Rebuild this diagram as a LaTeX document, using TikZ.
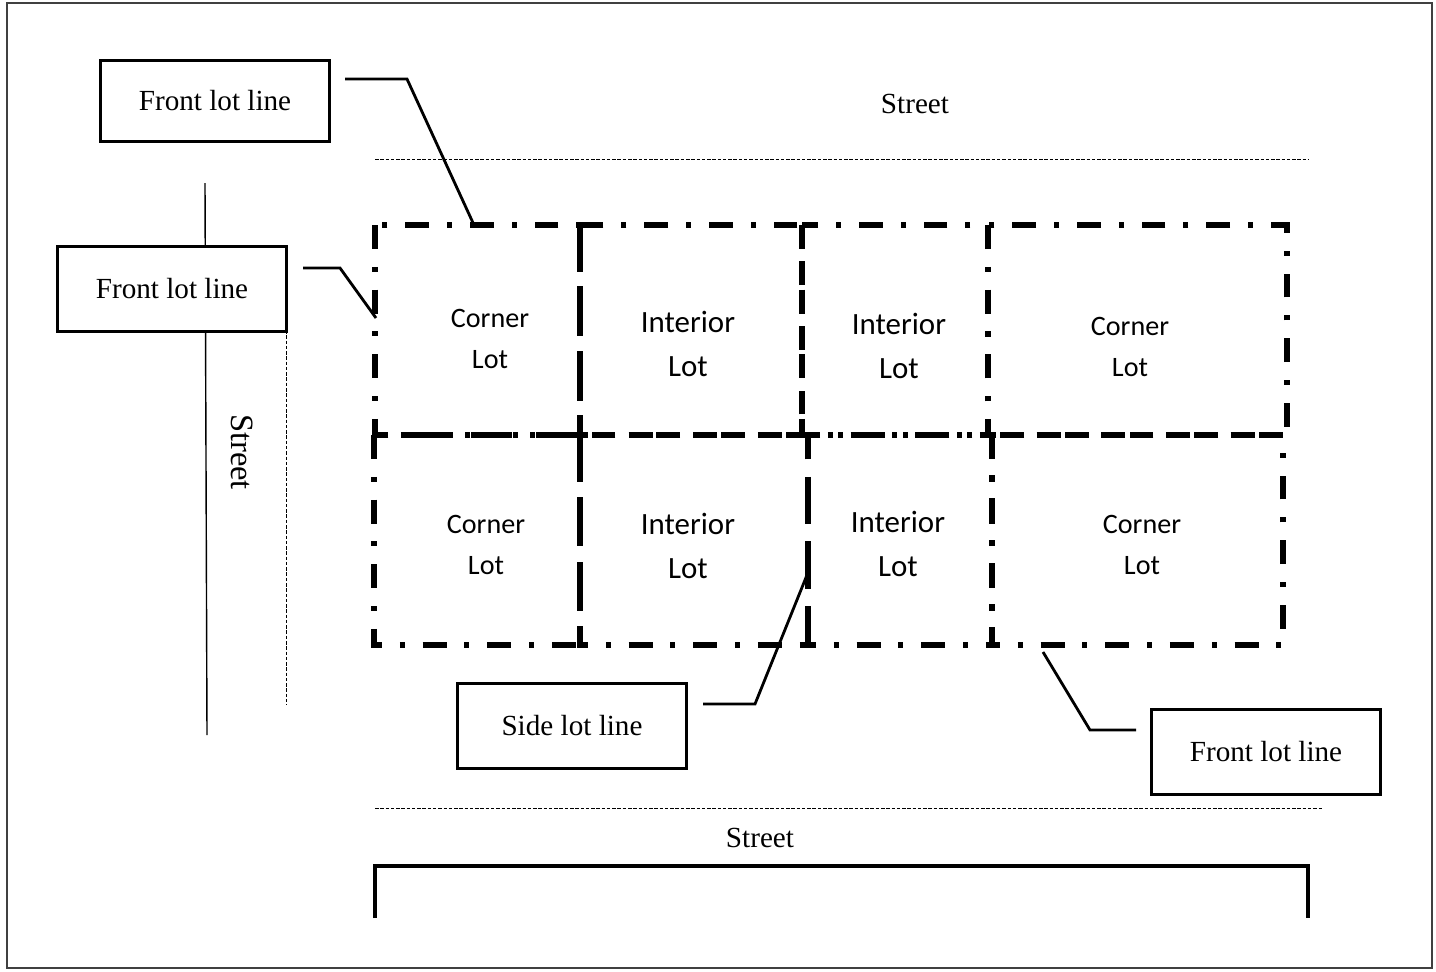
\documentclass[tikz,border=0pt]{standalone}
\usepackage{fontspec}
\setmainfont{Liberation Serif}
\newfontfamily\lotfont{Carlito}
\begin{document}
\begin{tikzpicture}[x=0.02cm,y=-0.02cm,
	cuadro/.style={draw,line width=1.6pt,fill=white,minimum width=4.58cm,minimum height=1.7cm,inner sep=0pt,font=\fontsize{16.6}{20}\selectfont},
	lindero/.style={line width=3pt,dash pattern=on 13.6pt off 10.2pt on 2.8pt off 10.2pt},
	esquina/.style={font=\lotfont\fontsize{16}{23.8}\selectfont,align=center},
	interior/.style={font=\lotfont\fontsize{17.6}{25}\selectfont,align=center},
	guia/.style={line width=1.6pt},
	calle/.style={line width=0.5pt,dash pattern=on 2pt off 1pt},
	rotulo/.style={font=\fontsize{16.6}{20}\selectfont}]
		\useasboundingbox (0,0) rectangle (1436,971);
		%marco
		\draw [line width=0.8pt,black!75] (7,3) rectangle (1432,968);
		%%%% CALLES
		\node[rotulo] at (915,104) (callearriba) {Street};
		\draw [calle] (375,159) -- (1308,159);
		\node[rotulo] at (760,838) (calleabajo) {Street};
		\draw [calle] (375,808) -- (1322,808);
		\draw [line width=2.2pt] (375,918) -- (375,866) -- (1308,866) -- (1308,918);
		%calle izquierda
		\coordinate (ci1) at (205,183);
		\coordinate (ci2) at (207,735);
		\draw [line width=0.8pt] (ci1) -- (ci2);
		\coordinate (cd1) at (286,330);
		\coordinate (cd2) at (286,705);
		\draw [calle] (cd1) -- (cd2);
		\node[rotulo,font=\fontsize{18.5}{20}\selectfont,rotate=-90] at (242,452) (calleizq) {Street};
		%%%LOTES fila 1
		\draw [lindero] (375,225) rectangle (580,435);
		\draw [lindero] (580,225) rectangle (802,435);
		\draw [lindero] (802,225) rectangle (988,435);
		\draw [lindero] (988,225) rectangle (1287,435);
		\node[esquina] at (490,339) (l11) {Corner\\Lot};
		\node[interior] at (688,344) (l12) {Interior\\Lot};
		\node[interior] at (899,346) (l13) {Interior\\Lot};
		\node[esquina] at (1130,347) (l14) {Corner\\Lot};
		%%%LOTES fila 2
		\draw [lindero] (374,435) rectangle (580,645);
		\draw [lindero] (580,435) rectangle (808,645);
		\draw [lindero] (808,435) rectangle (992,645);
		\draw [lindero] (992,435) rectangle (1283,645);
		\node[esquina] at (486,545) (l21) {Corner\\Lot};
		\node[interior] at (688,546) (l22) {Interior\\Lot};
		\node[interior] at (898,544) (l23) {Interior\\Lot};
		\node[esquina] at (1142,545) (l24) {Corner\\Lot};
		%cuadros
		\node[cuadro,minimum height=1.62cm] at (215,101) (frente1) {Front lot line};
		\node[cuadro] at (172,289) (frente2) {Front lot line};
		\node[cuadro] at (572,726) (lado) {Side lot line};
		\node[cuadro] at (1266,752) (frente3) {Front lot line};
		%guias
		\coordinate (a1) at (345,79);
		\coordinate (a2) at (407,79);
		\coordinate (a3) at (474,225);
		\draw [guia] (a1) -- (a2) -- (a3);
		\coordinate (b1) at (303,268);
		\coordinate (b2) at (340,268);
		\coordinate (b3) at (376,318);
		\draw [guia] (b1) -- (b2) -- (b3);
		\coordinate (c1) at (703,704);
		\coordinate (c2) at (755,704);
		\coordinate (c3) at (807,575);
		\draw [guia] (c1) -- (c2) -- (c3);
		\coordinate (d1) at (1043,652);
		\coordinate (d2) at (1090,730);
		\coordinate (d3) at (1136,730);
		\draw [guia] (d1) -- (d2) -- (d3);
\end{tikzpicture}
\end{document}
